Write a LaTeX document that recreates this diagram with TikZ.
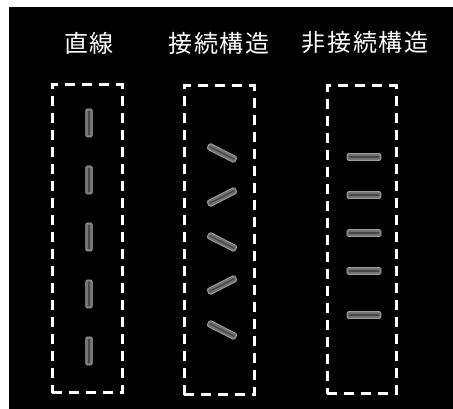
\documentclass[tikz,border=0pt]{standalone}
\usepackage{fontspec}
\newfontfamily\cjk[LetterSpace=8]{Noto Sans CJK JP}
\begin{document}
\begin{tikzpicture}[x=1pt,y=1pt,
  title/.style={text=white,font=\cjk\fontsize{24}{27}\selectfont,inner sep=0pt},
  dbox/.style={draw=white,line width=3pt,dash pattern=on 10pt off 7pt,minimum width=70pt,minimum height=308pt,inner sep=0pt},
  bar/.style={rectangle,rounded corners=1.5pt,fill=gray!90!black,draw=gray!75,line width=0.8pt,minimum height=6.5pt,inner sep=0pt},
  stripe/.style={line width=1.4pt,gray!55!black,shorten >=2pt,shorten <=2pt},
  vbar/.style={bar,minimum width=28pt,rotate=90},
  sbar/.style={bar,minimum width=31pt},
  hbar/.style={bar,minimum width=34pt,minimum height=7pt}
]
\useasboundingbox (0,0) rectangle (453,409);
\fill[white] (0,0) rectangle (453,409);
\fill[black] (9,0) rectangle (453,402);
% titles
\node[title] (t1) at (89,366) {直線};
\node[title] (t2) at (219,366) {接続構造};
\node[title] (t3) at (365,366) {非接続構造};
% boxes
\node[dbox] (box1) at (87,170) {};
\node[dbox,minimum height=309pt] (box2) at (219,168.5) {};
\node[dbox,minimum width=69pt] (box3) at (361.5,169) {};
% straight bars
\foreach \y [count=\i] in {123,180,237,294,351} {
  \node[vbar] (a\i) at (89,409-\y) {};
  \draw[stripe] (a\i.west) -- (a\i.east);
}
% connected structure
\foreach \y/\r [count=\i] in {153/-27,197/27,242/-27,285/27,330/-27} {
  \node[sbar,rotate=\r] (b\i) at (222,409-\y) {};
  \draw[stripe] (b\i.west) -- (b\i.east);
}
% non-connected structure
\foreach \y [count=\i] in {157,195,233,271,315} {
  \node[hbar] (c\i) at (364,409-\y) {};
  \draw[stripe] (c\i.west) -- (c\i.east);
}
\end{tikzpicture}
\end{document}
